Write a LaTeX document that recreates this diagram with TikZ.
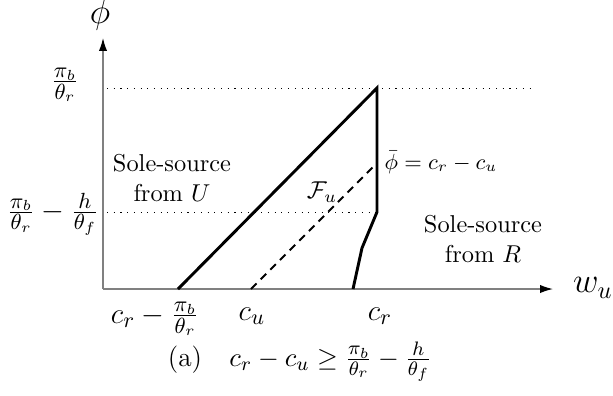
\documentclass[tikz,border=0pt]{standalone}
\usetikzlibrary{arrows.meta}
\begin{document}
\begin{tikzpicture}[x=0.41pt,y=-0.41pt,
  axis/.style={draw=gray, line width=0.55pt, -{Latex[black,length=5.3pt,width=3.4pt]}},
  guide/.style={line width=0.4pt, dash pattern=on 0.45pt off 2.3pt},
  bound/.style={line width=1.2pt, line join=miter},
  fline/.style={line width=0.8pt, dash pattern=on 3.2pt off 2.4pt},
  ticklbl/.style={inner sep=0pt, font=\fontsize{13}{15}\selectfont},
  axlbl/.style={inner sep=0pt, font=\fontsize{14.4}{17}\selectfont},
  region/.style={inner sep=0pt, align=center, font=\normalsize}]
\useasboundingbox (0,0) rectangle (613,395);
% points
\coordinate (O) at (103,289);
\coordinate (ytop) at (103,38);
\coordinate (xend) at (553,289);
\coordinate (t1) at (107,88);
\coordinate (t2) at (530,88);
\coordinate (m1) at (107,212);
\coordinate (m2) at (377,212);
\coordinate (A) at (178,289);
\coordinate (B) at (377,88);
\coordinate (C) at (377,212);
\coordinate (D) at (362,248);
\coordinate (E) at (353,289);
\coordinate (F0) at (251,289);
\coordinate (F1) at (373,167);
% guides
\draw[guide] (t1) -- (t2);
\draw[guide] (m1) -- (m2);
% axes
\draw[axis] (O) -- (ytop);
\draw[axis] (O) -- (xend);
% boundaries
\draw[bound] (A) -- (B) -- (C) -- (D) -- (E);
\draw[fline] (F0) -- (F1);
% labels
\node[axlbl] (phi) at (100,15) {$\phi$};
\node[axlbl] (wu) at (593,288) {$w_u$};
\node[ticklbl] (ytick1) at (65,85) {$\frac{\pi_b}{\theta_r}$};
\node[ticklbl] (ytick2) at (53,214) {$\frac{\pi_b}{\theta_r}-\frac{h}{\theta_f}$};
\node[ticklbl] (xtick1) at (155,319) {$c_r-\frac{\pi_b}{\theta_r}$};
\node[ticklbl] (xtick2) at (252,316) {$c_u$};
\node[ticklbl] (xtick3) at (380,316) {$c_r$};
\node[region] (regU) at (172,178) {Sole-source\\from $U$};
\node[region] (regR) at (483,239) {Sole-source\\from $R$};
\node[inner sep=0pt, font=\small] (phibar) at (441,162) {$\bar\phi=c_r-c_u$};
\node[inner sep=0pt, font=\normalsize] (Fu) at (322,192) {$\mathcal{F}_u$};
\node[inner sep=0pt, font=\fontsize{11.2}{14}\selectfont] (cap) at (300,362) {(a)\quad$c_r-c_u\geq\frac{\pi_b}{\theta_r}-\frac{h}{\theta_f}$};
\end{tikzpicture}
\end{document}
